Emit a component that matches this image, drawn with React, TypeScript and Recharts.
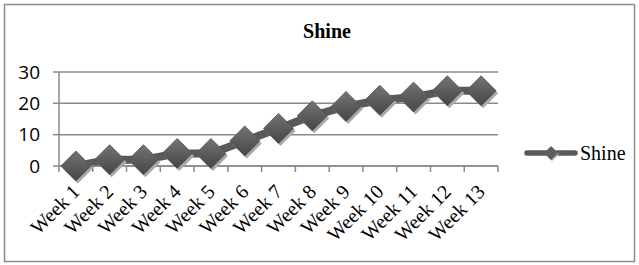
import React from 'react';
import { LineChart, Line, XAxis, YAxis, CartesianGrid, Legend } from 'recharts';

const categories = ['Week 1', 'Week 2', 'Week 3', 'Week 4', 'Week 5', 'Week 6', 'Week 7', 'Week 8', 'Week 9', 'Week 10', 'Week 11', 'Week 12', 'Week 13'];
const shineValues = [0, 2, 2, 4, 4, 8, 12, 16, 19, 21, 22, 24, 24];
const yTicks = [0, 10, 20, 30];
const seriesName = 'Shine';
const chartTitle = 'Shine';

const data = categories.map((week, i) => ({ week, shine: shineValues[i] }));

const GRID = '#8a8a8a';
const SERIES = '#595959';
const SERIF = 'Liberation Serif, Times New Roman, serif';
const TICK_LEN = 6;

const renderWeekTick = (props: any) => {
  const { x, y, payload, index, visibleTicksCount, width } = props;
  const count = visibleTicksCount || categories.length;
  const half =
    payload && typeof payload.offset === 'number' && payload.offset > 0
      ? payload.offset
      : (Number(width) || 0) / count / 2;
  const axisY = y - TICK_LEN;
  const ax = x + 5;
  const ay = y + 21;
  const isLast = index === count - 1;
  return (
    <g key={`wt${index}`}>
      <line x1={x - half} x2={x - half} y1={axisY} y2={axisY + TICK_LEN} stroke={GRID} strokeWidth={1.5} />
      {isLast && (
        <line x1={x + half} x2={x + half} y1={axisY} y2={axisY + TICK_LEN} stroke={GRID} strokeWidth={1.5} />
      )}
      <text
        x={ax}
        y={ay}
        transform={`rotate(-45, ${ax}, ${ay})`}
        textAnchor="end"
        style={{ fontFamily: SERIF, fontSize: '20px' }}
        fill="#000"
      >
        {payload.value}
      </text>
    </g>
  );
};

const Diamond = (props: any) => {
  const { cx, cy, index } = props;
  if (cx == null || cy == null) return null;
  const r = 15;
  const id = `dg${index}`;
  const pts = (ox: number, oy: number) =>
    `${cx + ox},${cy + oy - r} ${cx + ox + r},${cy + oy} ${cx + ox},${cy + oy + r} ${cx + ox - r},${cy + oy}`;
  return (
    <g key={`d${index}`}>
      <defs>
        <linearGradient id={id} x1="0" y1="0" x2="0" y2="1">
          <stop offset="0%" stopColor="#747474" />
          <stop offset="55%" stopColor="#5a5a5a" />
          <stop offset="100%" stopColor="#464646" />
        </linearGradient>
      </defs>
      <polygon points={pts(2, 2.5)} fill="#a9a9a9" />
      <polygon points={pts(0, 0)} fill={`url(#${id})`} stroke="#505050" strokeWidth={0.8} />
    </g>
  );
};

const LegendContent = () => (
  <div style={{ display: 'flex', alignItems: 'center', height: 24 }}>
    <svg width={54} height={24} style={{ display: 'block' }}>
      <line x1={3} y1={12} x2={51} y2={12} stroke={SERIES} strokeWidth={5.5} strokeLinecap="round" />
      <polygon points="27,5 34,12 27,19 20,12" fill="#a9a9a9" transform="translate(1,1)" />
      <polygon points="27,5 34,12 27,19 20,12" fill="#5f5f5f" />
    </svg>
    <span style={{ fontFamily: SERIF, fontSize: 20, color: '#000', marginLeft: 2, lineHeight: '24px' }}>
      {seriesName}
    </span>
  </div>
);

export default function App() {
  return (
    <div style={{ position: 'absolute', left: 0, top: 0, width: 639, height: 265, background: '#fff' }}>
      <svg width={639} height={265} style={{ position: 'absolute', left: 0, top: 0 }}>
        <rect x={4.5} y={4.5} width={630} height={257} fill="#fff" stroke="#8c8c8c" strokeWidth={1.5} />
        <text x={327} y={38} textAnchor="middle" fontFamily={SERIF} fontWeight="bold" fontSize={20} fill="#000">
          {chartTitle}
        </text>
      </svg>
      <div style={{ position: 'absolute', left: 0, top: 0 }}>
        <LineChart width={639} height={265} data={data} margin={{ top: 72, right: 141, left: 0, bottom: 0 }}>
          <CartesianGrid vertical={false} stroke={GRID} strokeWidth={1.5} />
          <XAxis
            dataKey="week"
            scale="band"
            interval={0}
            height={99}
            tickLine={{ stroke: 'none' }}
            tickSize={TICK_LEN}
            tickMargin={0}
            axisLine={{ stroke: GRID, strokeWidth: 1.5 }}
            tick={renderWeekTick}
          />
          <YAxis
            width={59}
            domain={[0, 30]}
            ticks={yTicks}
            interval={0}
            tickSize={6}
            tickMargin={13}
            axisLine={{ stroke: GRID, strokeWidth: 1.5 }}
            tickLine={{ stroke: GRID, strokeWidth: 1.5 }}
            tick={{ fontFamily: "'Open Sans', sans-serif", fontSize: 19, fill: '#000' }}
          />
          <Legend
            layout="horizontal"
            align="center"
            verticalAlign="middle"
            content={<LegendContent />}
            wrapperStyle={{ left: 524, top: 141, width: 110 }}
          />
          <Line
            type="linear"
            dataKey="shine"
            name={seriesName}
            stroke={SERIES}
            strokeWidth={8}
            dot={<Diamond />}
            activeDot={false}
            isAnimationActive={false}
          />
        </LineChart>
      </div>
    </div>
  );
}
